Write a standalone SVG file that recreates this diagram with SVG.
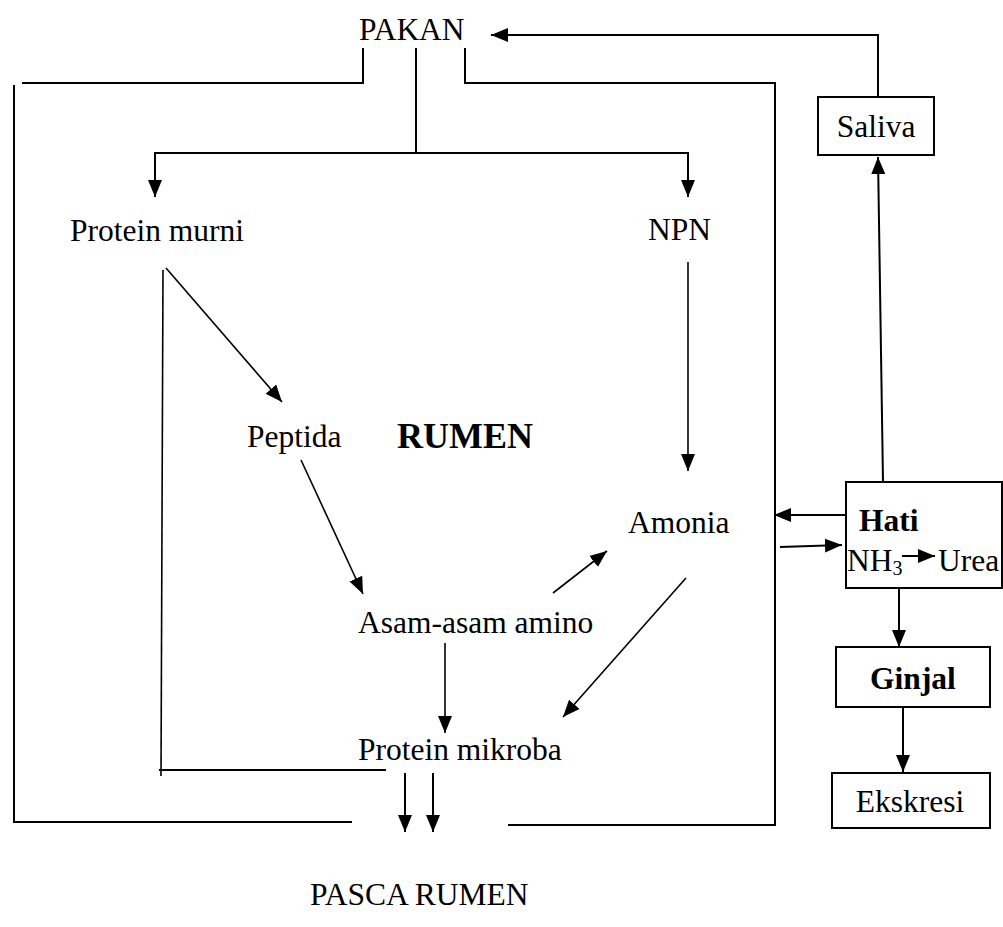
<svg xmlns="http://www.w3.org/2000/svg" width="1003" height="927" viewBox="0 0 1003 927">
<style>
text{font-family:"Liberation Serif","Times New Roman",serif;font-size:31.5px;fill:#000}
.b{font-weight:bold}
.ln{stroke:#000;stroke-width:2;fill:none}
.dg{stroke:#000;stroke-width:1.6;fill:none}
.box{stroke:#000;stroke-width:2;fill:#fff}
</style>
<defs>
<marker id="ah" markerUnits="userSpaceOnUse" markerWidth="18" markerHeight="16" refX="17" refY="8" orient="auto">
<path d="M0,1 L17,8 L0,15 Z" fill="#000"/>
</marker>
</defs>
<rect width="1003" height="927" fill="#fff"/>
<g id="connectors">
<polyline class="ln" points="22,83 363,83 363,48"/>
<polyline class="ln" points="14,85 14,822 352,822"/>
<polyline class="ln" points="465,48 465,83 775,83 775,825 508,825"/>
<line class="ln" x1="416" y1="48" x2="416" y2="153"/>
<polyline class="ln" points="155,153 688,153"/>
<line class="ln" x1="155" y1="152" x2="155" y2="197" marker-end="url(#ah)"/>
<line class="ln" x1="688" y1="152" x2="688" y2="197" marker-end="url(#ah)"/>
<line class="dg" x1="688" y1="262" x2="688" y2="471" marker-end="url(#ah)"/>
<line class="dg" x1="166" y1="268" x2="282" y2="402" marker-end="url(#ah)"/>
<polyline class="dg" points="163,270 161,776"/>
<line class="ln" x1="159" y1="770" x2="386" y2="770"/>
<line class="dg" x1="301" y1="460" x2="363" y2="594" marker-end="url(#ah)"/>
<line class="dg" x1="553" y1="593" x2="607" y2="551" marker-end="url(#ah)"/>
<line class="dg" x1="686" y1="578" x2="563" y2="717" marker-end="url(#ah)"/>
<line class="dg" x1="445" y1="643" x2="445" y2="733" marker-end="url(#ah)"/>
<line class="ln" x1="405" y1="773" x2="405" y2="832" marker-end="url(#ah)"/>
<line class="ln" x1="433" y1="773" x2="433" y2="832" marker-end="url(#ah)"/>
<polyline class="ln" points="878,97 878,35 491,35" marker-end="url(#ah)"/>
<line class="ln" x1="883" y1="482" x2="878" y2="157" marker-end="url(#ah)"/>
<line class="ln" x1="846" y1="515" x2="774" y2="515" marker-end="url(#ah)"/>
<line class="ln" x1="780" y1="547" x2="842" y2="545" marker-end="url(#ah)"/>
<line class="ln" x1="899" y1="588" x2="899" y2="647" marker-end="url(#ah)"/>
<line class="ln" x1="903" y1="707" x2="903" y2="772" marker-end="url(#ah)"/>
</g>
<g id="pakan"><text x="359" y="40">PAKAN</text></g>
<g id="protein-murni"><text x="70" y="241">Protein murni</text></g>
<g id="npn"><text x="648" y="240">NPN</text></g>
<g id="peptida"><text x="247" y="447">Peptida</text></g>
<g id="rumen"><text class="b" x="397" y="448" style="font-size:36px">RUMEN</text></g>
<g id="amonia"><text x="628" y="533">Amonia</text></g>
<g id="asam-amino"><text x="358" y="633">Asam-asam amino</text></g>
<g id="protein-mikroba"><text x="358" y="760">Protein mikroba</text></g>
<g id="pasca-rumen"><text x="310" y="905">PASCA RUMEN</text></g>
<g id="saliva"><rect class="box" x="818" y="97" width="116" height="58"/><text x="876" y="137" text-anchor="middle">Saliva</text></g>
<g id="hati">
<rect class="box" x="846" y="482" width="156" height="106"/>
<text class="b" x="859" y="531">Hati</text>
<text x="847" y="571">NH<tspan style="font-size:20px" dy="4">3</tspan></text>
<line class="ln" x1="902" y1="556" x2="935" y2="556" marker-end="url(#ah)"/>
<text x="938" y="571">Urea</text>
</g>
<g id="ginjal"><rect class="box" x="836" y="647" width="154" height="60"/><text class="b" x="913" y="689" text-anchor="middle">Ginjal</text></g>
<g id="ekskresi"><rect class="box" x="832" y="773" width="158" height="55"/><text x="910" y="812" text-anchor="middle">Ekskresi</text></g>
</svg>
